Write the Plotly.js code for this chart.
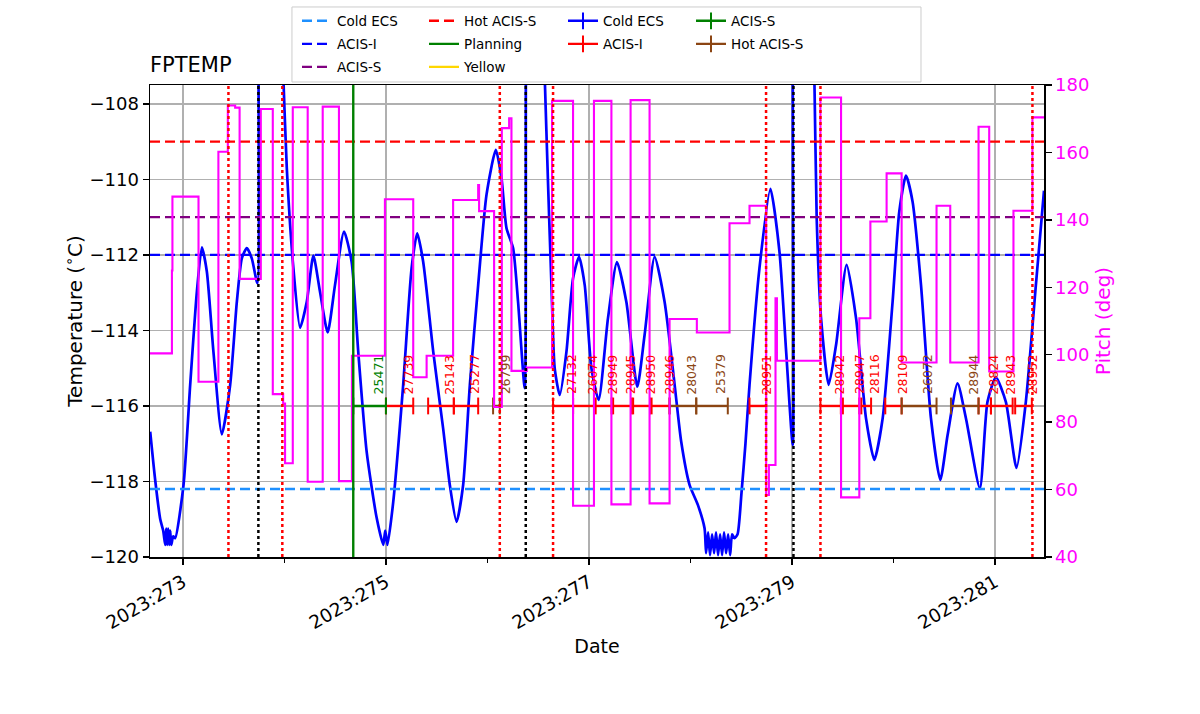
<!DOCTYPE html>
<html><head><meta charset="utf-8">
<script src="https://cdn.plot.ly/plotly-3.0.1.min.js"></script>
<style>body{margin:0;background:#fff}#chart{width:1200px;height:714px}</style>
</head><body><div id="chart"></div>
<script>
// ---- data (day of year 2023) ----
const tempTime = [272.675,272.724,272.774,272.803,272.823,272.833,272.843,272.852,272.862,272.872,272.882,272.902,272.921,
273.003,273.069,273.135,273.184,273.233,273.298,273.381,273.463,273.529,273.578,273.627,273.676,273.731,273.744,273.778,273.856,273.935,273.987,
274.021,274.086,274.152,274.218,274.283,274.348,274.424,274.496,274.585,274.660,274.725,274.808,274.907,274.972,274.991,
275.013,275.070,275.168,275.251,275.306,275.365,275.464,275.562,275.628,275.694,275.759,275.825,275.907,275.989,
276.081,276.137,276.186,276.251,276.300,276.366,276.381,276.415,276.514,276.563,276.596,276.629,276.661,276.711,276.777,276.842,276.901,276.957,
277.023,277.094,277.186,277.275,277.367,277.475,277.547,277.646,277.744,277.843,277.908,277.990,
278.072,278.138,278.153,278.173,278.192,278.212,278.232,278.251,278.271,278.291,278.311,278.330,278.350,278.370,278.390,278.409,278.433,278.463,278.502,278.541,278.581,278.679,278.787,278.876,278.942,
279.007,279.014,279.073,279.171,279.220,279.243,279.286,279.361,279.434,279.538,279.631,279.729,279.811,279.893,279.991,
280.057,280.123,280.188,280.271,280.369,280.461,280.533,280.631,280.714,280.851,280.926,
281.009,281.107,281.212,281.304,281.403,281.483];
const tempVal = [-116.68,-117.96,-119.0,-119.3,-119.68,-119.25,-119.68,-119.25,-119.68,-119.3,-119.68,-119.45,-119.5,
-118.1,-115.44,-112.97,-111.80,-112.44,-114.56,-116.75,-115.44,-113.24,-112.09,-111.82,-112.09,-112.75,-105,-103,-102.5,-104,-107.3,
-109.7,-112.35,-113.93,-113.24,-112.02,-112.97,-114.05,-112.8,-111.38,-112.18,-114.56,-117.21,-118.97,-119.68,-119.3,
-119.68,-118.54,-115.44,-112.35,-111.43,-112.18,-114.56,-116.6,-118.1,-119.07,-118.09,-115.44,-112.8,-110.41,
-109.22,-109.97,-111.29,-111.82,-113.24,-115.53,-105,-103,-103,-107.3,-110.15,-112.8,-115.0,-115.71,-114.56,-112.62,-112.05,-112.8,
-115.0,-115.84,-113.68,-112.19,-113.24,-115.49,-114.12,-112.05,-113.24,-115.44,-116.95,-118.09,
-118.62,-119.24,-119.9,-119.35,-119.95,-119.4,-119.9,-119.35,-119.95,-119.4,-119.95,-119.35,-119.9,-119.4,-119.95,-119.4,-119.5,-119.4,-118.3,-117.0,-115.44,-112.35,-110.25,-111.91,-114.56,
-117.03,-105,-103,-103,-107.3,-111.03,-113.68,-115.44,-114.38,-112.26,-113.68,-116.33,-117.43,-116.33,-113.24,
-110.85,-109.9,-110.59,-112.8,-116.33,-117.96,-116.77,-115.4,-116.33,-118.18,-115.89,
-115.24,-115.89,-117.64,-115.89,-112.8,-110.3];

const pitchTime = [272.673,272.889,272.894,273.151,273.347,273.440,273.512,273.556,273.765,273.883,273.985,274.004,274.080,274.227,274.375,274.535,274.663,274.988,
275.267,275.399,275.660,275.907,275.916,276.064,276.140,276.212,276.235,276.386,276.635,276.842,277.048,277.220,277.409,277.596,277.793,
278.062,278.384,278.581,278.745,278.772,278.837,278.851,279.280,279.483,279.663,279.772,279.932,280.080,280.424,280.559,280.838,280.943,281.182,281.369,281.483];
const pitchVal = [100.4,125,146.9,92.0,160.2,173.9,173.3,122.5,172.9,88.3,85.5,67.8,173.4,62.3,173.6,62.5,99.7,146.1,
93.3,99.7,145.9,150.3,142.6,84.5,167.2,170.1,95.2,96.2,175.3,55.2,175.3,55.6,175.5,55.9,110.6,
106.6,139.0,144.2,58.4,67.3,116.7,98.2,176.3,57.7,110.8,139.5,153.8,97.7,144.2,97.7,167.6,95.0,142.7,170.4,170.4];

const obsids = ['25471','27739','25143','25277','26799','27132','26074','28949','28945','28950','28946','28043','25379',
'28951','28942','28947','28116','28109','26072','28944','28824','28943','28952'];
const obsStart = [274.676,274.998,275.414,275.667,276.054,276.645,276.842,277.065,277.237,277.434,277.616,277.793,278.056,
278.581,279.280,279.501,279.683,279.919,280.080,280.566,280.838,280.960,281.199];
const obsStop = [274.998,275.267,275.667,275.907,276.120,276.842,277.050,277.222,277.419,277.601,277.793,278.056,278.367,
278.745,279.481,279.663,279.779,280.080,280.424,280.838,280.960,281.174,281.363];
const obsType = ['ACIS-S','ACIS-I','ACIS-I','ACIS-I','Hot ACIS-S','ACIS-I','ACIS-I','ACIS-I','ACIS-I','ACIS-I','ACIS-I','Hot ACIS-S','Hot ACIS-S',
'ACIS-I','ACIS-I','ACIS-I','ACIS-I','ACIS-I','Hot ACIS-S','Hot ACIS-S','ACIS-I','ACIS-I','ACIS-I'];

const limitNames = ['Cold ECS','ACIS-I','ACIS-S','Hot ACIS-S'];
const limitVals = [-118.2,-112,-111,-109];
const redLineTimes = [273.446,273.977,276.120,276.645,278.744,279.280,281.369];
const blackLineTimes = [273.741,276.376,279.014];
const greenLineTimes = [274.676];
const xTickVals = [273,275,277,279,281];
const xTickText = ['2023:273','2023:275','2023:277','2023:279','2023:281'];
const xMinorVals = [274,276,278,280];

// ---- styling ----
const XR = [272.673,281.483];
const limitColors = {'Cold ECS':'#1E90FF','ACIS-I':'blue','ACIS-S':'purple','Hot ACIS-S':'red'};
const obsColors = {'Cold ECS':'blue','ACIS-I':'red','ACIS-S':'green','Hot ACIS-S':'#8B4513'};
const FONT = 'DejaVu Sans, sans-serif';

const traces = [];
traces.push({x:tempTime,y:tempVal,mode:'lines',line:{color:'blue',width:2.7,shape:'spline',smoothing:0.6},showlegend:false,hoverinfo:'skip'});

// limit lines
limitNames.forEach((n,i)=>{
  traces.push({x:XR,y:[limitVals[i],limitVals[i]],mode:'lines',name:n,
    line:{color:limitColors[n],width:2.4,dash:'10px,5px'},
    legend: i<3 ? 'legend' : 'legend2', legendgroup:'lim'+i});
});
traces.push({x:[null],y:[null],mode:'lines',name:'Planning',line:{color:'green',width:2.4},legend:'legend2',legendgroup:'plan'});
traces.push({x:[null],y:[null],mode:'lines',name:'Yellow',line:{color:'#FFD700',width:2.4},legend:'legend2',legendgroup:'yel'});

// obsid bars
const typeOrder = ['Cold ECS','ACIS-I','ACIS-S','Hot ACIS-S'];
const typeLegend = {'Cold ECS':'legend3','ACIS-I':'legend3','ACIS-S':'legend4','Hot ACIS-S':'legend4'};
typeOrder.forEach(t=>{
  const xs=[], ys=[];
  obsids.forEach((o,i)=>{ if(obsType[i]===t){ xs.push(obsStart[i],obsStop[i],null); ys.push(-116,-116,null);} });
  if(xs.length===0){xs.push(null); ys.push(null);}
  traces.push({x:xs,y:ys,mode:'lines+markers',name:t,connectgaps:false,
    line:{color:obsColors[t],width:2.4},
    marker:{symbol:'line-ns-open',size:12,color:obsColors[t],line:{color:obsColors[t],width:2}},
    legend:typeLegend[t],legendgroup:'ob'+t,hoverinfo:'skip'});
});

// pitch
traces.push({x:pitchTime,y:pitchVal,yaxis:'y2',mode:'lines',line:{color:'magenta',width:2.1,shape:'hv'},showlegend:false,hoverinfo:'skip'});

// shapes
const shapes = [];
redLineTimes.forEach(t=>shapes.push({type:'line',xref:'x',yref:'paper',x0:t,x1:t,y0:0,y1:1,line:{color:'red',width:2.5,dash:'dot'},layer:'above'}));
blackLineTimes.forEach(t=>shapes.push({type:'line',xref:'x',yref:'paper',x0:t,x1:t,y0:0,y1:1,line:{color:'black',width:2.5,dash:'dot'},layer:'above'}));
greenLineTimes.forEach(t=>shapes.push({type:'line',xref:'x',yref:'paper',x0:t,x1:t,y0:0,y1:1,line:{color:'green',width:2.4},layer:'above'}));
// legend frame
shapes.push({type:'rect',xref:'paper',yref:'paper',x0:0.1588,x1:0.8624,y0:1.0064,y1:1.1653,line:{color:'#cccccc',width:1},fillcolor:'rgba(255,255,255,0.8)',layer:'below'});

// obsid labels
const annotations = obsids.map((o,i)=>({
  x:(obsStart[i]+obsStop[i])/2, y:-115.72, xref:'x', yref:'y', text:o, showarrow:false,
  textangle:-90, xanchor:'left', yanchor:'bottom', borderpad:0,
  font:{family:FONT,size:12.5,color:obsColors[obsType[i]]}
}));

const legBase = {yanchor:'top',xanchor:'left',y:(557-5.5)/472,bgcolor:'rgba(0,0,0,0)',borderwidth:0,
  font:{family:FONT,size:13.5,color:'black'},traceorder:'grouped',tracegroupgap:2.5,orientation:'v'};

const layout = {
  width:1200,height:714,
  margin:{l:150,r:156,t:85,b:157,autoexpand:false},
  paper_bgcolor:'white',plot_bgcolor:'white',
  font:{family:FONT,color:'black'},
  title:{text:'FPTEMP',xref:'paper',x:0,xanchor:'left',yref:'container',y:1-65/714,yanchor:'middle',font:{family:FONT,size:21}},
  xaxis:{range:XR,tickmode:'array',tickvals:xTickVals,ticktext:xTickText,tickangle:-30,
    ticks:'outside',ticklen:6,tickwidth:1.5,tickcolor:'black',
    showgrid:true,gridcolor:'#b0b0b0',gridwidth:1.5,zeroline:false,
    showline:true,linecolor:'black',linewidth:1.5,mirror:true,
    tickfont:{size:18.5},title:{text:'Date',font:{size:19}},
    minor:{tickmode:'array',tickvals:xMinorVals,ticks:'outside',ticklen:4,tickwidth:1.2,tickcolor:'black',showgrid:false}},
  yaxis:{range:[-120,-107.5],tick0:-120,dtick:2,ticks:'outside',ticklen:6,tickwidth:1.5,tickcolor:'black',
    showgrid:true,gridcolor:'#b0b0b0',gridwidth:1.5,zeroline:false,
    showline:true,linecolor:'black',linewidth:1.5,
    tickfont:{size:18},title:{text:'Temperature (<sup>∘</sup>C)',font:{size:20}}},
  yaxis2:{overlaying:'y',side:'right',range:[40,180],tick0:40,dtick:20,ticks:'outside',ticklen:6,tickwidth:1.5,tickcolor:'black',
    showgrid:false,zeroline:false,showline:true,linecolor:'black',linewidth:1.5,
    tickfont:{size:18,color:'magenta'},title:{text:'Pitch (deg)',font:{size:20,color:'magenta'}}},
  legend:Object.assign({},legBase,{x:(297-150)/894}),
  legend2:Object.assign({},legBase,{x:(424-150)/894}),
  legend3:Object.assign({},legBase,{x:(563-150)/894}),
  legend4:Object.assign({},legBase,{x:(691-150)/894}),
  shapes:shapes,
  annotations:annotations,
  showlegend:true
};

Plotly.newPlot('chart',traces,layout,{staticPlot:true,displayModeBar:false});
</script></body></html>
